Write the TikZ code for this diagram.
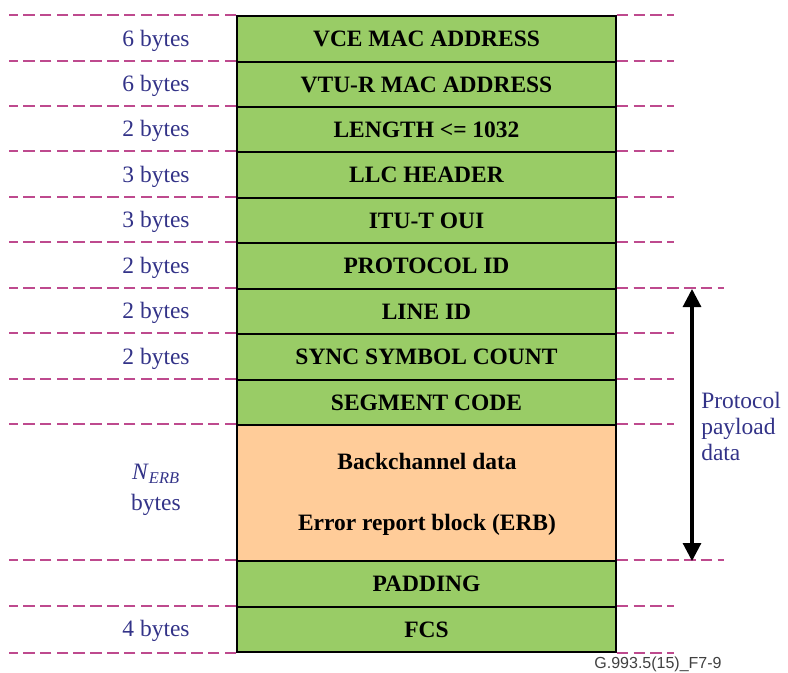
\documentclass[tikz,border=0pt]{standalone}
\usepackage{fontspec}
\setmainfont{Liberation Serif}
\newfontfamily\footfont{Liberation Sans}
\usetikzlibrary{arrows.meta,fit}
\definecolor{rowgreen}{HTML}{99CC66}
\definecolor{rowpeach}{HTML}{FFCC99}
\definecolor{guidecol}{HTML}{BE4A8E}
\definecolor{labblue}{HTML}{333388}
\definecolor{footgrey}{HTML}{404040}
\tikzset{
  row/.style={draw=black, line width=1.1pt, fill=rowgreen, inner sep=0pt},
  erbrow/.style={row, fill=rowpeach},
  rowtext/.style={font=\fontsize{17.6}{21}\selectfont\bfseries, inner sep=0pt},
  guide/.style={draw=guidecol, line width=1.3pt, dash pattern=on 8.8pt off 3.8pt},
  lab/.style={text=labblue, font=\fontsize{17.6}{19.5}\selectfont, inner sep=0pt},
  span/.style={draw=black, line width=2.3pt, {Triangle[width=13.5pt,length=13.5pt]}-{Triangle[width=13.5pt,length=13.5pt]}},
}
\begin{document}
\begin{tikzpicture}[x=0.75pt,y=-0.75pt]
\useasboundingbox (0,0) rectangle (788,672);
% rows
\node[row, fit={(237,16) (616,62)}] (r1) {};
\node[row, fit={(237,62) (616,107)}] (r2) {};
\node[row, fit={(237,107) (616,152)}] (r3) {};
\node[row, fit={(237,152) (616,198)}] (r4) {};
\node[row, fit={(237,198) (616,243)}] (r5) {};
\node[row, fit={(237,243) (616,289)}] (r6) {};
\node[row, fit={(237,289) (616,334)}] (r7) {};
\node[row, fit={(237,334) (616,380)}] (r8) {};
\node[row, fit={(237,380) (616,425)}] (r9) {};
\node[erbrow, fit={(237,425) (616,561)}] (r10) {};
\node[row, fit={(237,561) (616,607)}] (r11) {};
\node[row, fit={(237,607) (616,652)}] (r12) {};
\node[rowtext] (t1) at (r1.center) {VCE MAC ADDRESS};
\node[rowtext] (t2) at (r2.center) {VTU-R MAC ADDRESS};
\node[rowtext] (t3) at (r3.center) {LENGTH <= 1032};
\node[rowtext] (t4) at (r4.center) {LLC HEADER};
\node[rowtext] (t5) at (r5.center) {ITU-T OUI};
\node[rowtext] (t6) at (r6.center) {PROTOCOL ID};
\node[rowtext] (t7) at (r7.center) {LINE ID};
\node[rowtext] (t8) at (r8.center) {SYNC SYMBOL COUNT};
\node[rowtext] (t9) at (r9.center) {SEGMENT CODE};
\node[rowtext] (bc) at (427,461) {Backchannel data};
\node[rowtext] (erb) at (427,525) {Error report block (ERB)};
\node[rowtext] (t11) at (r11.center) {PADDING};
\node[rowtext] (t12) at (r12.center) {FCS};
% guides
\foreach \r in {r1,r2,r3,r4,r5,r6,r7,r8,r9,r10,r11,r12}{
  \draw[guide] (\r.north west) -- ++(-227,0);
  \draw[guide] (\r.north east) -- ++(57,0);
}
\draw[guide] (r12.south west) -- ++(-227,0);
\draw[guide] (r12.south east) -- ++(57,0);
\draw[guide] (r7.north east) -- ++(107,0);
\draw[guide] (r11.north east) -- ++(107,0);
% left labels
\node[lab] (l1) at (156,41) {6 bytes};
\node[lab] (l2) at (156,86) {6 bytes};
\node[lab] (l3) at (156,131) {2 bytes};
\node[lab] (l4) at (156,177) {3 bytes};
\node[lab] (l5) at (156,222) {3 bytes};
\node[lab] (l6) at (156,268) {2 bytes};
\node[lab] (l7) at (156,313) {2 bytes};
\node[lab] (l8) at (156,359) {2 bytes};
\node[lab] (l10a) at (156,474) {\textit{N}\textsubscript{\textit{ERB}}};
\node[lab] (l10b) at (156,505) {bytes};
\node[lab] (l12) at (156,631) {4 bytes};
% span arrow
\coordinate (ptop) at (692,289);
\coordinate (pbot) at (692,561);
\draw[span] (ptop) -- (pbot);
\node[lab, align=left, anchor=west] (pp) at (701,426) {Protocol\\payload\\data};
% footer
\node[font=\footfont\fontsize{12}{14}\selectfont, text=footgrey, anchor=base, inner sep=0pt] (ft) at (658,668) {G.993.5(15)\_F7-9};
\end{tikzpicture}
\end{document}
